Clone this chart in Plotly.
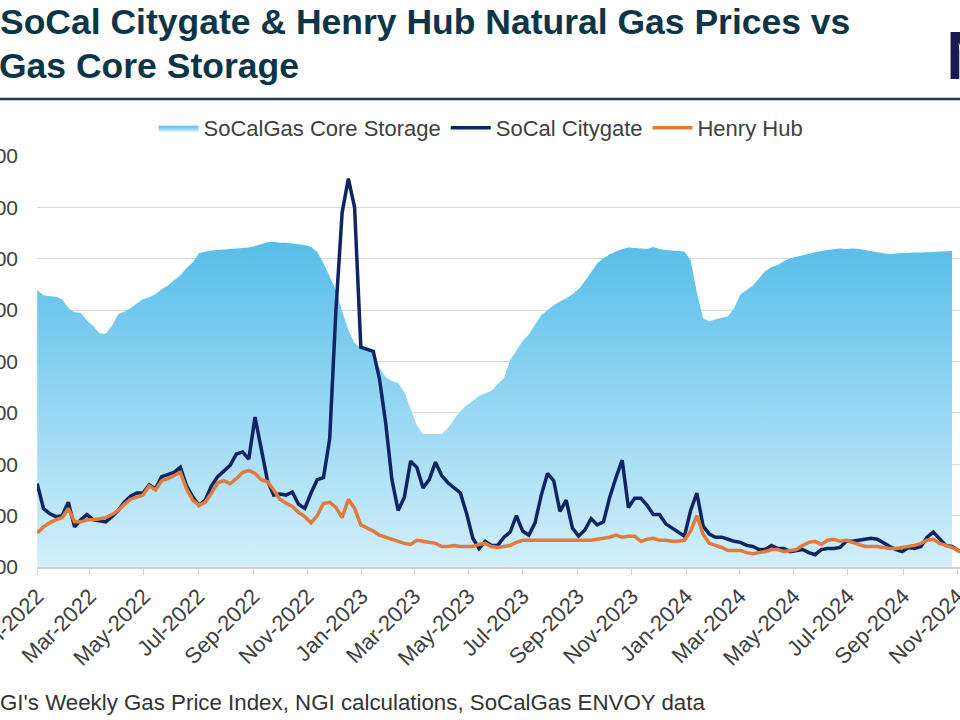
import pandas as pd
import plotly.graph_objects as go

# weekly series, first week = 2022-01-01
start_date = "2022-01-01"

# SoCalGas core storage (Bcf, right axis - off the crop)
storage_bcf = [
    53.9, 52.9, 52.7, 52.6, 52.1, 50.4, 49.6, 49.5, 48.0, 46.9,
    45.5, 45.4, 46.9, 49.2, 49.7, 50.4, 51.3, 52.1, 52.5, 53.1,
    54.1, 54.8, 55.8, 56.8, 58.2, 59.3, 61.1, 61.4, 61.6, 61.7,
    61.8, 61.9, 61.9, 62.0, 62.2, 62.5, 62.8, 63.2, 63.3, 63.1,
    63.1, 63.0, 62.9, 62.7, 62.3, 61.3, 59.1, 56.6, 53.9, 49.8,
    46.1, 43.6, 42.6, 42.4, 42.2, 38.7, 37.0, 36.2, 35.8, 34.0,
    30.9, 27.6, 25.9, 25.9, 25.9, 25.9, 27.0, 28.8, 30.3, 31.5,
    32.3, 33.3, 33.8, 34.3, 35.6, 36.8, 40.3, 42.2, 44.0, 45.3,
    47.1, 49.0, 50.0, 51.0, 51.7, 52.3, 53.1, 54.1, 55.6, 57.4,
    59.1, 60.1, 60.9, 61.4, 61.9, 62.2, 62.1, 61.9, 61.9, 62.3,
    61.9, 61.7, 61.6, 61.5, 61.4, 59.7, 53.5, 48.4, 47.8, 48.2,
    48.5, 48.8, 50.4, 53.1, 53.9, 54.8, 56.2, 57.6, 58.4, 58.8,
    59.5, 60.1, 60.4, 60.7, 61.0, 61.3, 61.5, 61.7, 61.9, 62.0,
    61.9, 62.0, 61.9, 61.7, 61.4, 61.2, 61.0, 60.9, 61.0, 61.1,
    61.1, 61.2, 61.2, 61.2, 61.3, 61.4, 61.5, 61.5,
]

# SoCal Citygate ($/MMBtu)
socal_citygate = [
    8.1, 5.7, 5.2, 4.9, 5.0, 6.3, 3.9, 4.6, 5.1, 4.6,
    4.5, 4.4, 4.9, 5.5, 6.3, 6.9, 7.2, 7.2, 8.0, 7.6,
    8.8, 9.0, 9.2, 9.7, 7.9, 6.8, 6.0, 6.5, 7.9, 8.8,
    9.4, 9.9, 11.0, 11.2, 10.5, 14.6, 11.5, 8.4, 7.0, 7.1,
    7.0, 7.3, 6.1, 5.7, 7.2, 8.5, 8.7, 12.5, 25.0, 34.5,
    37.8, 35.0, 21.4, 21.2, 21.0, 18.3, 14.0, 8.5, 5.5, 6.8,
    10.3, 9.7, 7.7, 8.5, 10.2, 8.9, 8.2, 7.7, 7.2, 5.2,
    2.8, 1.8, 2.5, 2.1, 2.1, 2.9, 3.4, 5.0, 3.5, 3.1,
    4.3, 7.0, 9.1, 8.4, 5.4, 6.5, 3.8, 3.0, 3.6, 4.7,
    4.1, 4.4, 6.8, 8.7, 10.4, 5.8, 6.7, 6.7, 6.0, 5.1,
    5.1, 4.2, 3.8, 3.3, 3.0, 5.5, 7.2, 4.0, 3.2, 2.9,
    2.9, 2.7, 2.5, 2.4, 2.1, 2.0, 1.7, 1.7, 2.1, 1.8,
    1.8, 1.5, 1.6, 1.7, 1.4, 1.2, 1.7, 1.8, 1.8, 1.9,
    2.5, 2.5, 2.6, 2.7, 2.8, 2.7, 2.3, 2.0, 1.7, 1.5,
    1.9, 1.8, 2.0, 2.9, 3.4, 2.8, 2.1, 2.0, 1.6, 1.4,
]

# Henry Hub ($/MMBtu)
henry_hub = [
    3.3, 3.9, 4.3, 4.6, 4.8, 5.7, 4.4, 4.4, 4.6, 4.6,
    4.7, 4.8, 5.1, 5.5, 6.1, 6.6, 6.8, 7.0, 7.9, 7.5,
    8.4, 8.6, 8.9, 9.2, 7.6, 6.5, 6.0, 6.3, 7.2, 8.2,
    8.4, 8.1, 8.6, 9.2, 9.4, 9.1, 8.5, 8.3, 7.5, 6.6,
    6.2, 5.9, 5.3, 4.9, 4.3, 5.0, 6.2, 6.3, 5.8, 4.8,
    6.6, 5.7, 4.1, 3.8, 3.5, 3.1, 2.9, 2.7, 2.5, 2.3,
    2.2, 2.6, 2.5, 2.4, 2.3, 2.0, 2.0, 2.1, 2.0, 2.0,
    2.0, 2.2, 2.3, 2.0, 1.9, 2.0, 2.1, 2.4, 2.6, 2.6,
    2.6, 2.6, 2.6, 2.6, 2.6, 2.6, 2.6, 2.6, 2.6, 2.6,
    2.7, 2.8, 2.9, 3.1, 2.9, 3.0, 3.0, 2.5, 2.7, 2.8,
    2.6, 2.6, 2.5, 2.5, 2.6, 3.5, 5.0, 3.2, 2.3, 2.1,
    1.9, 1.6, 1.6, 1.6, 1.4, 1.3, 1.4, 1.5, 1.7, 1.7,
    1.5, 1.6, 1.7, 2.1, 2.4, 2.5, 2.2, 2.6, 2.7, 2.5,
    2.6, 2.4, 2.2, 2.0, 2.0, 2.0, 1.9, 1.8, 1.8, 1.9,
    2.0, 2.1, 2.3, 2.6, 2.7, 2.3, 2.1, 1.9, 1.6, 1.4,
]

storage_dates = pd.date_range(start_date, periods=len(storage_bcf), freq="7D")
price_dates = pd.date_range(start_date, periods=len(socal_citygate), freq="7D")

# plot area in pixels (chart is a crop, right side runs off the page)
W, H = 960, 720
L, R, T, B = 37, 960, 156, 567


def px(x):
    return (x - L) / (R - L)


def py(y):
    return (B - y) / (B - T)


fig = go.Figure()

fig.add_trace(go.Scatter(
    x=storage_dates, y=storage_bcf, name="SoCalGas Core Storage",
    mode="lines", line=dict(width=0, color="#7fd0f2"),
    fill="tozeroy",
    fillgradient=dict(type="vertical", start=0, stop=64,
                      colorscale=[[0, "#d3effb"], [1, "#55bdea"]]),
    yaxis="y", hoverinfo="skip",
))
fig.add_trace(go.Scatter(
    x=price_dates, y=socal_citygate, name="SoCal Citygate",
    mode="lines", line=dict(color="#0f2462", width=3.5),
    yaxis="y2",
))
fig.add_trace(go.Scatter(
    x=price_dates, y=henry_hub, name="Henry Hub",
    mode="lines", line=dict(color="#e07b3c", width=3.5),
    yaxis="y2",
))

fig.update_layout(
    width=W, height=H,
    paper_bgcolor="white", plot_bgcolor="white",
    margin=dict(l=L, r=W - R, t=T, b=H - B, autoexpand=False),
    font=dict(family="Liberation Sans, Arial", color="#404040"),
    showlegend=True,
    legend=dict(orientation="h", x=px(481), xanchor="center",
                y=py(128), yanchor="middle", font=dict(size=22),
                bgcolor="rgba(0,0,0,0)", itemwidth=40, tracegroupgap=0),
    xaxis=dict(
        type="date", range=["2021-12-31 18:00", "2024-11-04"],
        tick0="2022-01-01", dtick="M2", tickformat="%b-%Y",
        tickangle=-45, ticks="outside", ticklen=6, tickcolor="#d0d0d0",
        showline=True, linecolor="#d0d0d0", linewidth=1.5,
        showgrid=False, zeroline=False, automargin=False,
        ticklabeloverflow="allow",
        tickfont=dict(size=22, color="#404040"),
    ),
    yaxis=dict(
        range=[0, 80], dtick=10, showgrid=True, gridcolor="#d9d9d9",
        gridwidth=1.3, showticklabels=False, zeroline=False,
        showline=False, automargin=False,
    ),
    yaxis2=dict(
        overlaying="y", side="left", range=[0, 40], dtick=5,
        tickprefix="$", tickformat=".2f", showgrid=False, zeroline=False,
        showline=False, automargin=False, ticks="",
        ticklabelstandoff=18, ticklabeloverflow="allow",
        tickfont=dict(size=21, color="#404040"),
    ),
)

title_color = "#0d3547"
fig.add_annotation(text="<b>SoCal Citygate & Henry Hub Natural Gas Prices vs</b>",
                   xref="paper", yref="paper", x=px(-2), y=py(22),
                   xanchor="left", yanchor="middle", showarrow=False,
                   font=dict(size=35.5, color=title_color))
fig.add_annotation(text="<b>Gas Core Storage</b>",
                   xref="paper", yref="paper", x=px(-3), y=py(66),
                   xanchor="left", yanchor="middle", showarrow=False,
                   font=dict(size=35.5, color=title_color))
fig.add_annotation(text="<b>N</b>",
                   xref="paper", yref="paper", x=px(944), y=py(55),
                   xanchor="left", yanchor="middle", showarrow=False,
                   font=dict(size=68, color="#1b1a4e"))
fig.add_annotation(text="GI's Weekly Gas Price Index, NGI calculations, SoCalGas ENVOY data",
                   xref="paper", yref="paper", x=px(-2), y=py(702),
                   xanchor="left", yanchor="middle", showarrow=False,
                   font=dict(size=22.3, color="#333333"))

fig.add_shape(type="line", xref="paper", yref="paper",
              x0=px(-5), x1=px(965), y0=py(99), y1=py(99),
              line=dict(color="#1d3c4b", width=2.5))

# drop the page's default body margin so the figure sits at the window corner
fig.write_html("out.html", config={"displayModeBar": False},
               post_script="document.body.style.margin='0';")
